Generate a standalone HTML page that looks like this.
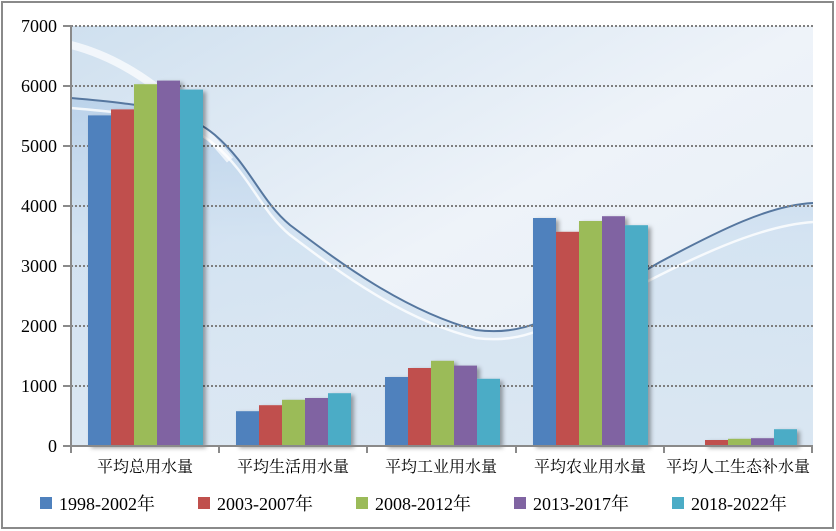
<!DOCTYPE html>
<html><head><meta charset="utf-8"><style>
html,body{margin:0;padding:0;background:#fff}
svg{display:block}
text{font-family:"Liberation Serif","Noto Serif CJK SC",serif}
.c{font-family:"Liberation Sans","Noto Sans CJK SC",sans-serif;font-size:16px}
</style></head><body>
<svg width="836" height="531" viewBox="0 0 836 531" xmlns="http://www.w3.org/2000/svg">
<defs>
<linearGradient id="bg" x1="0" y1="0" x2="1" y2="1">
<stop offset="0" stop-color="#cfe0ef"/>
<stop offset="0.5" stop-color="#eef3f9"/>
<stop offset="1" stop-color="#e4edf6"/>
</linearGradient>
<linearGradient id="low" x1="0" y1="0" x2="0" y2="1">
<stop offset="0" stop-color="#b3cde8"/>
<stop offset="0.4" stop-color="#cddff0"/>
<stop offset="1" stop-color="#d6e4f1"/>
</linearGradient>
<filter id="sh" x="-20%" y="-5%" width="150%" height="110%"><feDropShadow dx="3" dy="2" stdDeviation="2" flood-color="#000" flood-opacity="0.35"/></filter>
</defs>
<rect x="2" y="2" width="831" height="526" fill="#fff" stroke="#8a8a8a" stroke-width="2"/>
<rect x="71" y="26" width="742" height="420" fill="url(#bg)"/>
<path d="M71,98 C150,105 185,110 215,135 C250,165 260,200 290,225 C330,255 400,310 476,330 C500,333 520,330 540,322 C590,305 620,285 660,262 C720,230 770,205 813,203 L813,446 L71,446 Z" fill="url(#low)" opacity="0.75"/>
<path d="M71,45 C130,60 180,100 230,160" fill="none" stroke="#fff" stroke-width="8" opacity="0.7"/>
<path d="M71,98 C150,105 185,110 215,135 C250,165 260,200 290,225 C330,255 400,310 476,330 C500,333 520,330 540,322 C590,305 620,285 660,262 C720,230 770,205 813,203" fill="none" stroke="#56779f" stroke-width="2"/>
<path d="M71,108 C150,115 185,120 215,145 C250,175 260,210 290,235 C330,265 400,320 476,338 C500,341 520,338 540,330 C590,315 620,295 660,275 C720,245 770,225 813,222" fill="none" stroke="#ffffff" stroke-width="2.5" opacity="0.8"/>
<g stroke="#7f7f7f" stroke-width="2" stroke-dasharray="2,2">
<line x1="71" y1="26" x2="813" y2="26"/><line x1="71" y1="86" x2="813" y2="86"/>
<line x1="71" y1="146" x2="813" y2="146"/><line x1="71" y1="206" x2="813" y2="206"/>
<line x1="71" y1="266" x2="813" y2="266"/><line x1="71" y1="326" x2="813" y2="326"/>
<line x1="71" y1="386" x2="813" y2="386"/>
</g>
<g filter="url(#sh)">
<rect x="88" y="115.4" width="23" height="330.6" fill="#4f81bd"/>
<rect x="111" y="109.4" width="23" height="336.6" fill="#c0504d"/>
<rect x="134" y="84.2" width="23" height="361.8" fill="#9bbb59"/>
<rect x="157" y="80.6" width="23" height="365.4" fill="#8064a2"/>
<rect x="180" y="89.6" width="23" height="356.4" fill="#4bacc6"/>
<rect x="236" y="411.2" width="23" height="34.8" fill="#4f81bd"/>
<rect x="259" y="405.2" width="23" height="40.8" fill="#c0504d"/>
<rect x="282" y="399.8" width="23" height="46.2" fill="#9bbb59"/>
<rect x="305" y="398" width="23" height="48" fill="#8064a2"/>
<rect x="328" y="393.2" width="23" height="52.8" fill="#4bacc6"/>
<rect x="385" y="377" width="23" height="69" fill="#4f81bd"/>
<rect x="408" y="368" width="23" height="78" fill="#c0504d"/>
<rect x="431" y="360.8" width="23" height="85.2" fill="#9bbb59"/>
<rect x="454" y="365.6" width="23" height="80.4" fill="#8064a2"/>
<rect x="477" y="378.8" width="23" height="67.2" fill="#4bacc6"/>
<rect x="533" y="218" width="23" height="228" fill="#4f81bd"/>
<rect x="556" y="231.8" width="23" height="214.2" fill="#c0504d"/>
<rect x="579" y="221" width="23" height="225" fill="#9bbb59"/>
<rect x="602" y="216.2" width="23" height="229.8" fill="#8064a2"/>
<rect x="625" y="225.2" width="23" height="220.8" fill="#4bacc6"/>
<rect x="705" y="440" width="23" height="6" fill="#c0504d"/>
<rect x="728" y="438.8" width="23" height="7.2" fill="#9bbb59"/>
<rect x="751" y="438.2" width="23" height="7.8" fill="#8064a2"/>
<rect x="774" y="429.2" width="23" height="16.8" fill="#4bacc6"/>
</g>
<g stroke="#8a8a8a" stroke-width="2">
<line x1="71" y1="25" x2="71" y2="453"/>
<line x1="70" y1="446" x2="813" y2="446"/>
<line x1="63" y1="26" x2="71" y2="26"/><line x1="63" y1="86" x2="71" y2="86"/>
<line x1="63" y1="146" x2="71" y2="146"/><line x1="63" y1="206" x2="71" y2="206"/>
<line x1="63" y1="266" x2="71" y2="266"/><line x1="63" y1="326" x2="71" y2="326"/>
<line x1="63" y1="386" x2="71" y2="386"/><line x1="63" y1="446" x2="71" y2="446"/>
<line x1="219" y1="446" x2="219" y2="453"/><line x1="367" y1="446" x2="367" y2="453"/>
<line x1="516" y1="446" x2="516" y2="453"/><line x1="664" y1="446" x2="664" y2="453"/>
<line x1="812" y1="446" x2="812" y2="453"/>
</g>
<g font-size="18" text-anchor="end">
<text x="57" y="32">7000</text><text x="57" y="92">6000</text><text x="57" y="152">5000</text>
<text x="57" y="212">4000</text><text x="57" y="272">3000</text><text x="57" y="332">2000</text>
<text x="57" y="392">1000</text><text x="57" y="452">0</text>
</g>
<g class="c" text-anchor="middle">
<text x="145" y="472">平均总用水量</text>
<text x="293" y="472">平均生活用水量</text>
<text x="441" y="472">平均工业用水量</text>
<text x="590" y="472">平均农业用水量</text>
<text x="738" y="472">平均人工生态补水量</text>
</g>
<g font-size="18">
<rect x="40" y="497" width="12" height="12" fill="#4f81bd"/><text x="59" y="510">1998-2002年</text>
<rect x="198" y="497" width="12" height="12" fill="#c0504d"/><text x="217" y="510">2003-2007年</text>
<rect x="356" y="497" width="12" height="12" fill="#9bbb59"/><text x="375" y="510">2008-2012年</text>
<rect x="514" y="497" width="12" height="12" fill="#8064a2"/><text x="533" y="510">2013-2017年</text>
<rect x="672" y="497" width="12" height="12" fill="#4bacc6"/><text x="691" y="510">2018-2022年</text>
</g>
</svg>
</body></html>
